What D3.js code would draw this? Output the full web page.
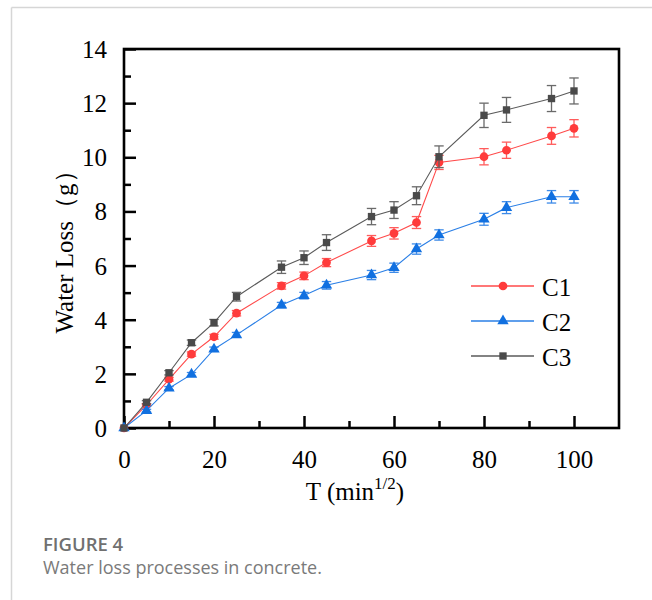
<!DOCTYPE html>
<html>
<head>
<meta charset="utf-8">
<script src="https://cdn.jsdelivr.net/npm/d3@7"></script>
<style>
  html, body { margin: 0; padding: 0; background: #fff; }
  svg { display: block; }
</style>
</head>
<body>
<svg id="chart" width="652" height="600"></svg>
<script>
// Drying time (square root of minutes) and measured water loss per mix
const tValues = [0, 5, 10, 15, 20, 25, 35, 40, 45, 55, 60, 65, 70, 80, 85, 95, 100];
const c1Loss = [0, 0.85, 1.80, 2.73, 3.37, 4.24, 5.25, 5.62, 6.11, 6.91, 7.19, 7.59, 9.81, 10.02, 10.26, 10.79, 11.07];
const c2Loss = [0, 0.64, 1.47, 1.98, 2.91, 3.44, 4.54, 4.89, 5.27, 5.65, 5.92, 6.61, 7.13, 7.71, 8.14, 8.54, 8.54];
const c3Loss = [0, 0.95, 2.04, 3.15, 3.89, 4.85, 5.94, 6.29, 6.85, 7.81, 8.05, 8.58, 10.02, 11.55, 11.75, 12.17, 12.45];
// Standard deviations (error bar half-lengths)
const c1Err = [0, 0.05, 0.07, 0.08, 0.09, 0.10, 0.12, 0.14, 0.15, 0.20, 0.21, 0.22, 0.26, 0.30, 0.30, 0.31, 0.32];
const c2Err = [0, 0.05, 0.06, 0.07, 0.08, 0.09, 0.10, 0.12, 0.14, 0.17, 0.17, 0.19, 0.19, 0.22, 0.22, 0.23, 0.23];
const c3Err = [0, 0.06, 0.08, 0.10, 0.12, 0.16, 0.23, 0.25, 0.29, 0.30, 0.31, 0.33, 0.40, 0.45, 0.46, 0.48, 0.48];
const seriesNames = ["C1", "C2", "C3"];
const xTickValues = [0, 20, 40, 60, 80, 100];
const yTickValues = [0, 2, 4, 6, 8, 10, 12, 14];

const series = [
  { name: seriesNames[0], loss: c1Loss, err: c1Err, color: "#ff3b3b", line: "#ff4a4a", symbol: d3.symbolCircle, size: 60 },
  { name: seriesNames[1], loss: c2Loss, err: c2Err, color: "#1170e0", line: "#2a7fe6", symbol: d3.symbolTriangle, size: 56 },
  { name: seriesNames[2], loss: c3Loss, err: c3Err, color: "#4a4a4a", line: "#5a5a5a", symbol: d3.symbolSquare, size: 54 }
];

const svg = d3.select("#chart");
const serif = "'Liberation Serif', 'Times New Roman', serif";

// Page frame lines
svg.append("line").attr("x1", 11.5).attr("x2", 652).attr("y1", 7.5).attr("y2", 7.5)
  .attr("stroke", "#d6d6d6").attr("stroke-width", 1.5);
svg.append("line").attr("x1", 11.5).attr("x2", 11.5).attr("y1", 7.5).attr("y2", 600)
  .attr("stroke", "#d6d6d6").attr("stroke-width", 1.5);

const plot = { left: 124, right: 619, top: 49, bottom: 428 };
const x = d3.scaleLinear().domain([0, 110]).range([plot.left, plot.right]);
const y = d3.scaleLinear().domain([0, 14]).range([plot.bottom, plot.top]);

// Axes with inward ticks
const xAxis = d3.axisBottom(x).tickValues(xTickValues).tickSizeInner(-12).tickSizeOuter(0).tickPadding(22);
const xMinor = d3.axisBottom(x).tickValues(d3.range(10, 110, 20)).tickSizeInner(-7).tickSizeOuter(0).tickFormat("");
const yAxis = d3.axisLeft(y).tickValues(yTickValues).tickSizeInner(-12).tickSizeOuter(0).tickPadding(17);
const yMinor = d3.axisLeft(y).tickValues(d3.range(1, 14, 2)).tickSizeInner(-7).tickSizeOuter(0).tickFormat("");

function styleAxis(g) {
  g.select(".domain").remove();
  g.selectAll(".tick line").attr("stroke", "#000").attr("stroke-width", 2.5);
  g.selectAll(".tick text").attr("fill", "#000").style("font-family", serif).style("font-size", "25px");
}

svg.append("g").attr("transform", `translate(0,${plot.bottom})`).call(xMinor).call(styleAxis);
svg.append("g").attr("transform", `translate(${plot.left},0)`).call(yMinor).call(styleAxis);
const gx = svg.append("g").attr("transform", `translate(0,${plot.bottom})`).call(xAxis).call(styleAxis);
gx.selectAll(".tick text").attr("dy", "0.71em");
const gy = svg.append("g").attr("transform", `translate(${plot.left},0)`).call(yAxis).call(styleAxis);
gy.selectAll(".tick text").attr("dy", "0.34em");

// Frame around plot area
svg.append("rect")
  .attr("x", plot.left).attr("y", plot.top)
  .attr("width", plot.right - plot.left).attr("height", plot.bottom - plot.top)
  .attr("fill", "none").attr("stroke", "#000").attr("stroke-width", 2.6);

// Axis titles
const xTitle = svg.append("text")
  .attr("x", 355).attr("y", 500).attr("text-anchor", "middle")
  .style("font-family", serif).style("font-size", "25px").attr("fill", "#000");
xTitle.append("tspan").text("T (min");
xTitle.append("tspan").attr("dy", -11).style("font-size", "17px").text("1/2");
xTitle.append("tspan").attr("dy", 11).text(")");

svg.append("text")
  .attr("transform", "translate(73,246) rotate(-90)")
  .attr("text-anchor", "middle")
  .style("font-family", serif).style("font-size", "25px").attr("fill", "#000")
  .text("Water Loss（g）");

// Series: lines, error bars, markers
const lineGen = d3.line().x((d, i) => x(tValues[i])).y(d => y(d));
const capHalf = 4.7;

series.forEach(s => {
  const g = svg.append("g");
  g.append("path").datum(s.loss).attr("d", lineGen)
    .attr("fill", "none").attr("stroke", s.line).attr("stroke-width", 1.1);

  const eb = g.selectAll(".eb").data(s.loss.map((v, i) => ({ t: tValues[i], v, e: s.err[i] })).filter(d => d.e > 0))
    .enter().append("g").attr("stroke", s.line).attr("stroke-width", 1.3).attr("opacity", 0.9);
  eb.append("line").attr("x1", d => x(d.t)).attr("x2", d => x(d.t))
    .attr("y1", d => y(d.v - d.e)).attr("y2", d => y(d.v + d.e));
  eb.append("line").attr("x1", d => x(d.t) - capHalf).attr("x2", d => x(d.t) + capHalf)
    .attr("y1", d => y(d.v + d.e)).attr("y2", d => y(d.v + d.e));
  eb.append("line").attr("x1", d => x(d.t) - capHalf).attr("x2", d => x(d.t) + capHalf)
    .attr("y1", d => y(d.v - d.e)).attr("y2", d => y(d.v - d.e));

  g.selectAll(".pt").data(s.loss).enter().append("path")
    .attr("d", d3.symbol().type(s.symbol).size(s.size))
    .attr("transform", (d, i) => `translate(${x(tValues[i])},${y(d)})`)
    .attr("fill", s.color);
});

// Legend
const legend = svg.append("g");
series.forEach((s, i) => {
  const ly = 286 + i * 35;
  legend.append("line").attr("x1", 471).attr("x2", 534).attr("y1", ly).attr("y2", ly)
    .attr("stroke", s.line).attr("stroke-width", 1.3);
  legend.append("path").attr("d", d3.symbol().type(s.symbol).size(s.size))
    .attr("transform", `translate(503,${ly})`).attr("fill", s.color);
  legend.append("text").attr("x", 542).attr("y", ly + 10)
    .style("font-family", serif).style("font-size", "25px").attr("fill", "#000")
    .text(s.name);
});

// Caption
svg.append("text").attr("x", 43).attr("y", 551)
  .style("font-family", "'Open Sans', sans-serif").style("font-size", "18.5px").style("font-weight", 600)
  .attr("fill", "#707070").text("FIGURE 4");
svg.append("text").attr("x", 43).attr("y", 574)
  .style("font-family", "'Open Sans', sans-serif").style("font-size", "18px")
  .attr("fill", "#7a7a7a").text("Water loss processes in concrete.");
</script>
</body>
</html>
